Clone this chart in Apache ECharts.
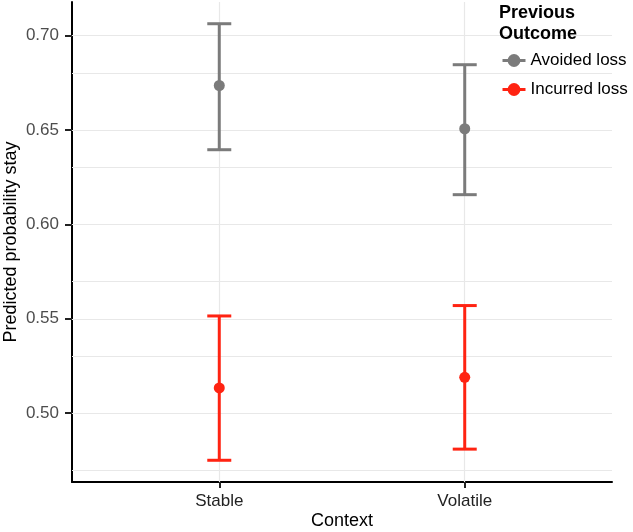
<!DOCTYPE html>
<html>
<head>
<meta charset="utf-8">
<script src="https://cdn.jsdelivr.net/npm/echarts@6/dist/echarts.min.js"></script>
<style>
html,body{margin:0;padding:0;background:#fff}
#chartmain{width:633px;height:532px}
</style>
</head>
<body>
<div id="chartmain"></div>
<script>
// data
var contexts = ['Stable', 'Volatile'];
var xPos = [1, 2];
var avoidedMean = [0.6735, 0.6506];
var avoidedLow = [0.6395, 0.6157];
var avoidedHigh = [0.7062, 0.6845];
var incurredMean = [0.5134, 0.5190];
var incurredLow = [0.4751, 0.4810];
var incurredHigh = [0.5515, 0.5570];
var yTicks = [0.50, 0.55, 0.60, 0.65, 0.70];
var yMinor = [0.475, 0.525, 0.575, 0.625, 0.675];

var grey = '#7b7b7b';
var red = '#ff2312';
var font = 'Liberation Sans';

function pts(mean) {
    return xPos.map(function (x, i) { return [x, mean[i]]; });
}
function bars(lo, hi) {
    return xPos.map(function (x, i) { return [x, lo[i], hi[i]]; });
}
function errorBar(color) {
    return function (params, api) {
        var x = api.value(0);
        var pLo = api.coord([x, api.value(1)]);
        var pHi = api.coord([x, api.value(2)]);
        var w = 12;
        var st = { stroke: color, lineWidth: 3 };
        return {
            type: 'group',
            children: [
                { type: 'line', shape: { x1: pLo[0], y1: pHi[1], x2: pLo[0], y2: pLo[1] }, style: st },
                { type: 'line', shape: { x1: pHi[0] - w, y1: pHi[1], x2: pHi[0] + w, y2: pHi[1] }, style: st },
                { type: 'line', shape: { x1: pLo[0] - w, y1: pLo[1], x2: pLo[0] + w, y2: pLo[1] }, style: st }
            ]
        };
    };
}

var gridLines = yTicks.concat(yMinor).map(function (v) { return { yAxis: v }; })
    .concat(xPos.map(function (v) { return { xAxis: v }; }));

var option = {
    animation: false,
    backgroundColor: '#fff',
    textStyle: { fontFamily: font },
    grid: { left: 72, right: 21, top: 2, bottom: 50, outerBoundsMode: 'none' },
    title: {
        text: 'Previous\nOutcome',
        left: 499, top: 3, padding: 0,
        textStyle: { fontSize: 18, fontWeight: 'bold', color: '#000', fontFamily: font, lineHeight: 21 }
    },
    legend: {
        orient: 'vertical',
        left: 501, top: 52, padding: 0,
        itemWidth: 23, itemHeight: 16, itemGap: 12,
        textStyle: { fontSize: 17, color: '#000', fontFamily: font },
        lineStyle: { opacity: 1, width: 3 },
        data: ['Avoided loss', 'Incurred loss']
    },
    graphic: {
        elements: [{
            type: 'rect', left: 492, top: 0, z: 3,
            shape: { width: 141, height: 106 },
            style: { fill: '#fff' }
        }]
    },
    xAxis: {
        type: 'value', min: 0.4, max: 2.6,
        name: 'Context', nameLocation: 'middle', nameGap: 30, nameMoveOverlap: false,
        nameTextStyle: { fontSize: 18, color: '#000', fontFamily: font },
        axisLine: { show: true, lineStyle: { color: '#000', width: 2 } },
        axisTick: { show: true, customValues: xPos, length: 6, lineStyle: { color: '#222', width: 2 } },
        axisLabel: {
            customValues: xPos, margin: 11, fontSize: 17, color: '#222', fontFamily: font,
            formatter: function (v) { return contexts[Math.round(v) - 1]; }
        },
        splitLine: { show: false }
    },
    yAxis: {
        type: 'value', min: 0.4636, max: 0.7177,
        name: 'Predicted probability stay', nameLocation: 'middle', nameGap: 52, nameMoveOverlap: false,
        nameTextStyle: { fontSize: 18, color: '#000', fontFamily: font },
        axisLine: { show: true, lineStyle: { color: '#000', width: 2 } },
        axisTick: { show: true, customValues: yTicks, length: 7, lineStyle: { color: '#222', width: 2 } },
        axisLabel: {
            customValues: yTicks, margin: 13, fontSize: 17, color: '#4d4d4d', fontFamily: font,
            formatter: function (v) { return v.toFixed(2); }
        },
        splitLine: { show: false }
    },
    series: [
        {
            // gridlines only, drawn below everything else
            name: 'grid', type: 'scatter', z: 1, data: [],
            markLine: {
                silent: true, symbol: ['none', 'none'], label: { show: false },
                lineStyle: { color: '#e8e8e8', width: 1.2, type: 'solid' },
                data: gridLines
            }
        },
        {
            name: 'Avoided loss', type: 'line', z: 10,
            data: pts(avoidedMean),
            symbol: 'circle', symbolSize: 11, showSymbol: true,
            itemStyle: { color: grey },
            lineStyle: { opacity: 0, color: grey }
        },
        {
            name: 'Incurred loss', type: 'line', z: 10,
            data: pts(incurredMean),
            symbol: 'circle', symbolSize: 11, showSymbol: true,
            itemStyle: { color: red },
            lineStyle: { opacity: 0, color: red }
        },
        {
            name: 'Avoided loss', type: 'custom', z: 8,
            renderItem: errorBar(grey),
            data: bars(avoidedLow, avoidedHigh)
        },
        {
            name: 'Incurred loss', type: 'custom', z: 8,
            renderItem: errorBar(red),
            data: bars(incurredLow, incurredHigh)
        }
    ]
};

var myChart = echarts.init(document.getElementById('chartmain'));
myChart.setOption(option);
</script>
</body>
</html>
